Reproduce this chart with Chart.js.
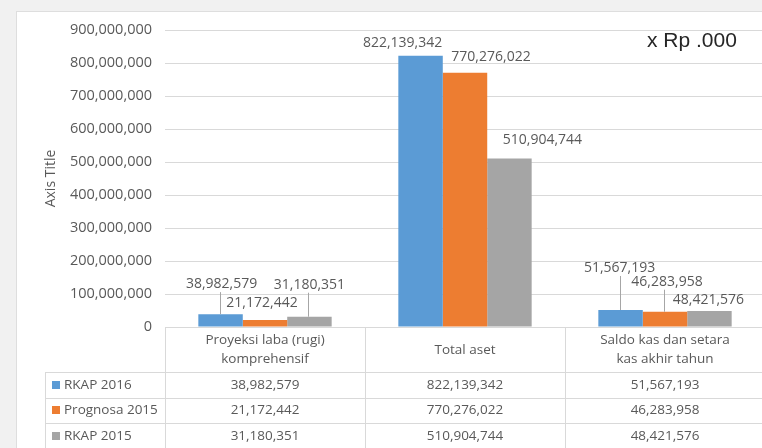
<!DOCTYPE html>
<html>
<head>
<meta charset="utf-8">
<script src="https://cdn.jsdelivr.net/npm/chart.js@4/dist/chart.umd.min.js"></script>
<style>
  html, body { margin: 0; padding: 0; overflow: hidden; background: #f1f1f1; }
  body { width: 762px; height: 448px; position: relative; }
  #panel { position: absolute; left: 16px; top: 11px; width: 800px; height: 500px; background: #fff; border: 1px solid #dedede; }
  #chart { position: absolute; left: 0; top: 0; }
</style>
</head>
<body>
<div id="panel"></div>
<canvas id="chart" width="775" height="448"></canvas>
<script>
// kategori dan nilai (x Rp .000)
const categories = [
    ['Proyeksi laba (rugi)', 'komprehensif'],
    'Total aset',
    ['Saldo kas dan setara', 'kas akhir tahun']
];
const seriesNames = ['RKAP 2016', 'Prognosa 2015', 'RKAP 2015'];
const rkap2016 = [38982579, 822139342, 51567193];
const prognosa2015 = [21172442, 770276022, 46283958];
const rkap2015 = [31180351, 510904744, 48421576];
const yTicks = [0, 100000000, 200000000, 300000000, 400000000, 500000000, 600000000, 700000000, 800000000, 900000000];
const colors = ['#5b9bd5', '#ed7d31', '#a5a5a5'];

const textGrey = '#595959';
const lineGrey = '#d9d9d9';
const fmt = v => v.toLocaleString('en-US');

// geser label nilai (dx, dy dari posisi default) supaya tidak bertumpuk
const labelShift = [
    [[1, -22], [-18, -5], [-1, -34]],
    [[-3, -9], [26, -8], [2, -22]],
    [[0, -24], [33, -10], [-1, -3]]
];

// label nilai di atas batang + garis penunjuk
const valueLabels = {
    id: 'valueLabels',
    afterDatasetsDraw(chart) {
        const ctx = chart.ctx;
        ctx.save();
        ctx.font = '14px "Open Sans"';
        ctx.fillStyle = textGrey;
        ctx.textAlign = 'center';
        ctx.textBaseline = 'middle';
        chart.data.datasets.forEach((ds, i) => {
            chart.getDatasetMeta(i).data.forEach((bar, j) => {
                const [dx, dy] = labelShift[i][j];
                const x = bar.x + dx;
                const y = bar.y - 8 + dy;
                if (dy < -15) {
                    ctx.strokeStyle = '#a6a6a6';
                    ctx.lineWidth = 1;
                    ctx.beginPath();
                    ctx.moveTo(Math.round(bar.x) - 0.5, y + 8);
                    ctx.lineTo(Math.round(bar.x) - 0.5, bar.y);
                    ctx.stroke();
                }
                ctx.fillText(fmt(ds.data[j]), x, y);
            });
        });
        ctx.restore();
    }
};

// tabel data di bawah sumbu x
const dataTable = {
    id: 'dataTable',
    afterDraw(chart) {
        const ctx = chart.ctx;
        const xs = chart.scales.x;
        const area = chart.chartArea;
        const top = area.bottom;
        const headerBottom = top + 45;
        const rowH = 25.5;
        const leftCol = 45;
        const right = area.right;
        const colEdges = [];
        for (let k = 0; k <= categories.length; k++) {
            colEdges.push(xs.getPixelForValue(k - 0.5));
        }
        ctx.save();
        ctx.strokeStyle = lineGrey;
        ctx.lineWidth = 1;
        ctx.beginPath();
        const nRows = chart.data.datasets.length;
        for (let r = 0; r <= nRows; r++) {
            const y = Math.round(headerBottom + r * rowH) + 0.5;
            ctx.moveTo(leftCol, y);
            ctx.lineTo(right, y);
        }
        const bottom = headerBottom + nRows * rowH;
        ctx.moveTo(leftCol + 0.5, headerBottom);
        ctx.lineTo(leftCol + 0.5, bottom);
        colEdges.forEach(x => {
            ctx.moveTo(Math.round(x) + 0.5, top);
            ctx.lineTo(Math.round(x) + 0.5, bottom);
        });
        ctx.stroke();

        ctx.font = '13.5px "Open Sans"';
        ctx.textBaseline = 'middle';
        chart.data.datasets.forEach((ds, i) => {
            const cy = headerBottom + i * rowH + rowH / 2;
            ctx.fillStyle = ds.backgroundColor;
            ctx.fillRect(52, Math.round(cy) - 4, 8, 8);
            ctx.fillStyle = textGrey;
            ctx.textAlign = 'left';
            ctx.fillText(ds.label, 64, cy);
            ctx.textAlign = 'center';
            ds.data.forEach((v, j) => {
                ctx.fillText(fmt(v), xs.getPixelForValue(j), cy);
            });
        });
        ctx.restore();
    }
};

// satuan di pojok kanan atas
const unitNote = {
    id: 'unitNote',
    afterDraw(chart) {
        const ctx = chart.ctx;
        ctx.save();
        ctx.font = '21px "Liberation Sans"';
        ctx.fillStyle = '#262626';
        ctx.textAlign = 'left';
        ctx.textBaseline = 'alphabetic';
        ctx.fillText('x Rp .000', 647, 47);
        ctx.restore();
    }
};

const seriesData = [rkap2016, prognosa2015, rkap2015];

new Chart(document.getElementById('chart'), {
    type: 'bar',
    data: {
        labels: categories,
        datasets: seriesNames.map((name, i) => ({
            label: name,
            data: seriesData[i],
            backgroundColor: colors[i],
            barPercentage: 1,
            categoryPercentage: 2 / 3
        }))
    },
    options: {
        responsive: false,
        animation: false,
        layout: { padding: { left: 15, top: 30, right: 10, bottom: 0 } },
        plugins: {
            legend: { display: false },
            tooltip: { enabled: false }
        },
        scales: {
            x: {
                grid: { display: false },
                border: { color: lineGrey },
                ticks: {
                    color: textGrey,
                    font: { family: 'Open Sans', size: 13.5, lineHeight: 1.45 },
                    padding: 5,
                    crossAlign: 'center',
                    maxRotation: 0,
                    autoSkip: false
                },
                afterFit: s => { s.height = 121; }
            },
            y: {
                min: 0,
                max: 900000000,
                afterBuildTicks: s => { s.ticks = yTicks.map(v => ({ value: v })); },
                grid: { color: lineGrey, drawTicks: false },
                border: { display: false },
                ticks: {
                    color: textGrey,
                    font: { family: 'Open Sans', size: 14.5 },
                    padding: 13,
                    callback: v => fmt(v)
                },
                title: {
                    display: true,
                    text: 'Axis Title',
                    color: textGrey,
                    font: { family: 'Open Sans', size: 14 },
                    padding: { top: 28, bottom: 0 }
                },
                afterFit: s => { s.width = 150; }
            }
        }
    },
    plugins: [valueLabels, dataTable, unitNote]
});
</script>
</body>
</html>
